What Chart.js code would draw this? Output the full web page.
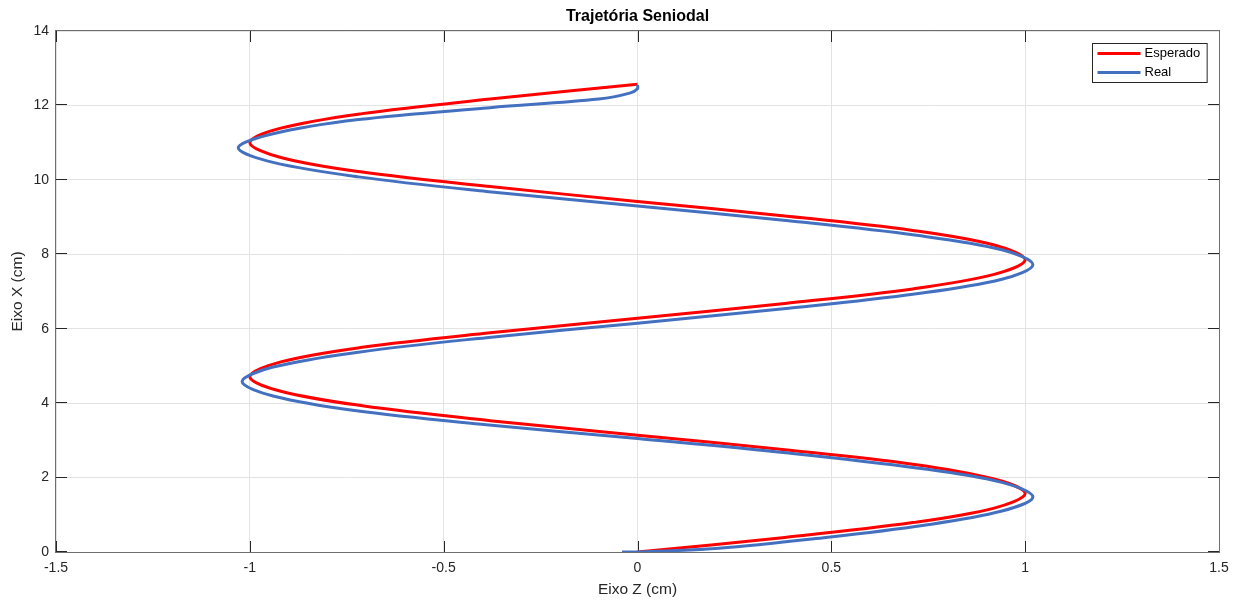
<!DOCTYPE html>
<html lang="pt">
<head>
<meta charset="utf-8">
<title>Trajetória Seniodal</title>
<script src="https://cdn.jsdelivr.net/npm/chart.js@4.4.1/dist/chart.umd.min.js"></script>
<style>
  html, body { margin: 0; padding: 0; background: #ffffff; }
  #grafico { display: block; }
</style>
</head>
<body>
<canvas id="grafico" width="1249" height="605"></canvas>
<script>
// Trajetória esperada: posição em Z (cm) para cada posição em X (cm)
const esperadoX = [0.00, 0.39, 0.79, 1.18, 1.57, 1.96, 2.36, 2.75, 3.14, 3.53, 3.93, 4.32, 4.71, 5.11, 5.50, 5.89,
                   6.28, 6.68, 7.07, 7.46, 7.85, 8.25, 8.64, 9.03, 9.42, 9.82, 10.21, 10.60, 11.00, 11.39, 11.78, 12.17, 12.57];
const esperadoZ = [0.00, 0.38, 0.71, 0.92, 1.00, 0.92, 0.71, 0.38, 0.00, -0.38, -0.71, -0.92, -1.00, -0.92, -0.71, -0.38,
                   0.00, 0.38, 0.71, 0.92, 1.00, 0.92, 0.71, 0.38, 0.00, -0.38, -0.71, -0.92, -1.00, -0.92, -0.71, -0.38, 0.00];

// Trajetória medida (real)
const realX = [0.00, 0.00, 0.10, 0.36, 0.72, 1.10, 1.48, 1.87, 2.26, 2.66, 3.05, 3.42, 3.80, 4.19, 4.58, 4.97, 5.37, 5.76,
               6.15, 6.55, 6.94, 7.33, 7.72, 8.12, 8.51, 8.90, 9.30, 9.69, 10.08, 10.47, 10.86, 11.24, 11.62, 11.94,
               12.17, 12.33, 12.45, 12.55];
const realZ = [-0.04, 0.00, 0.21, 0.46, 0.74, 0.94, 1.02, 0.94, 0.72, 0.39, 0.00, -0.39, -0.73, -0.94, -1.02, -0.94, -0.72, -0.39,
               0.00, 0.39, 0.72, 0.94, 1.02, 0.94, 0.72, 0.39, 0.00, -0.39, -0.72, -0.94, -1.03, -0.94, -0.72, -0.38,
               -0.10, -0.02, 0.00, 0.00];

// Marcas dos eixos
const ticksZ = [-1.5, -1, -0.5, 0, 0.5, 1, 1.5];
const ticksX = [0, 2, 4, 6, 8, 10, 12, 14];

const fonte = '"Liberation Sans", Arial, Helvetica, sans-serif';
const corEixo = '#262626';

function pontos(zs, xs) {
  return zs.map((z, i) => ({ x: z, y: xs[i] }));
}

// Caixa do gráfico com marcas internas, título centralizado e legenda dentro da área
const caixaEixos = {
  id: 'caixaEixos',
  afterLayout(chart) {
    const a = chart.chartArea;
    if (chart.titleBlock) {
      chart.titleBlock.left = a.left;
      chart.titleBlock.right = a.right;
    }
  },
  beforeDatasetsDraw(chart) {
    const { ctx, chartArea: a, scales } = chart;
    const tam = 11;
    ctx.save();
    ctx.strokeStyle = corEixo;
    ctx.lineWidth = 1;
    ctx.beginPath();
    ticksZ.forEach(v => {
      const px = Math.round(scales.x.getPixelForValue(v)) + 0.5;
      ctx.moveTo(px, a.bottom); ctx.lineTo(px, a.bottom - tam);
      ctx.moveTo(px, a.top); ctx.lineTo(px, a.top + tam);
    });
    ticksX.forEach(v => {
      const py = Math.round(scales.y.getPixelForValue(v)) - 0.5;
      ctx.moveTo(a.left, py); ctx.lineTo(a.left + tam, py);
      ctx.moveTo(a.right, py); ctx.lineTo(a.right - tam, py);
    });
    ctx.stroke();
    ctx.strokeStyle = '#6e6e6e';
    ctx.strokeRect(Math.round(a.left) - 0.5, Math.round(a.top) - 0.5,
                   Math.round(a.right - a.left) + 1, Math.round(a.bottom - a.top) + 1);
    ctx.restore();
  },
  afterDraw(chart) {
    const { ctx, chartArea: a } = chart;
    const sets = chart.data.datasets;
    ctx.save();
    ctx.font = '13px ' + fonte;
    const largTexto = Math.max(...sets.map(d => ctx.measureText(d.label).width));
    const larg = 52 + largTexto + 7;
    const alt = 39;
    const x0 = Math.round(a.right - 12 - larg) + 0.5;
    const y0 = Math.round(a.top + 12) + 0.5;
    ctx.fillStyle = '#ffffff';
    ctx.fillRect(x0, y0, larg, alt);
    ctx.strokeStyle = corEixo;
    ctx.lineWidth = 1;
    ctx.strokeRect(x0, y0, larg, alt);
    sets.forEach((d, i) => {
      const yy = y0 + 10 + i * 19;
      ctx.strokeStyle = d.borderColor;
      ctx.lineWidth = 3;
      ctx.beginPath();
      ctx.moveTo(x0 + 5, yy);
      ctx.lineTo(x0 + 48, yy);
      ctx.stroke();
      ctx.fillStyle = '#000000';
      ctx.textBaseline = 'middle';
      ctx.textAlign = 'left';
      ctx.fillText(d.label, x0 + 52, yy);
    });
    ctx.restore();
  }
};

const ctxTrajetoria = document.getElementById('grafico').getContext('2d');

new Chart(ctxTrajetoria, {
  type: 'scatter',
  data: {
    datasets: [
      {
        label: 'Esperado',
        data: pontos(esperadoZ, esperadoX),
        showLine: true,
        borderColor: '#ff0000',
        backgroundColor: '#ff0000',
        borderWidth: 3,
        pointRadius: 0,
        tension: 0.35,
        order: 1
      },
      {
        label: 'Real',
        data: pontos(realZ, realX),
        showLine: true,
        borderColor: '#4470c0',
        backgroundColor: '#4470c0',
        borderWidth: 3,
        pointRadius: 0,
        tension: 0.35,
        order: 0
      }
    ]
  },
  options: {
    responsive: false,
    animation: false,
    layout: { padding: { left: 0, right: 30, top: 0, bottom: 0 } },
    plugins: {
      legend: { display: false },
      tooltip: { enabled: false },
      title: {
        display: true,
        text: 'Trajetória Seniodal',
        color: '#000000',
        font: { family: fonte, size: 16, weight: 'bold', lineHeight: 1.2 },
        padding: { top: 7.4, bottom: 4.4 }
      }
    },
    scales: {
      x: {
        type: 'linear',
        min: -1.5,
        max: 1.5,
        afterBuildTicks: s => { s.ticks = ticksZ.map(v => ({ value: v })); },
        afterFit: s => { s.height = 53; },
        ticks: {
          color: corEixo,
          padding: 8,
          maxRotation: 0,
          font: { family: fonte, size: 14 },
          callback: v => String(v)
        },
        grid: { color: '#e3e3e3', drawTicks: false },
        border: { display: false },
        title: {
          display: true,
          text: 'Eixo Z (cm)',
          color: corEixo,
          font: { family: fonte, size: 15.5, lineHeight: 1.2 },
          padding: { top: 0, bottom: 5.7 }
        }
      },
      y: {
        type: 'linear',
        min: 0,
        max: 14,
        afterBuildTicks: s => { s.ticks = ticksX.map(v => ({ value: v })); },
        afterFit: s => { s.width = 56; },
        ticks: {
          color: corEixo,
          padding: 7,
          font: { family: fonte, size: 14 },
          callback: v => String(v)
        },
        grid: { color: '#e3e3e3', drawTicks: false },
        border: { display: false },
        title: {
          display: true,
          text: 'Eixo X (cm)',
          color: corEixo,
          font: { family: fonte, size: 15.5, lineHeight: 1.2 },
          padding: { top: 8.7, bottom: 0 }
        }
      }
    }
  },
  plugins: [caixaEixos]
});
</script>
</body>
</html>
